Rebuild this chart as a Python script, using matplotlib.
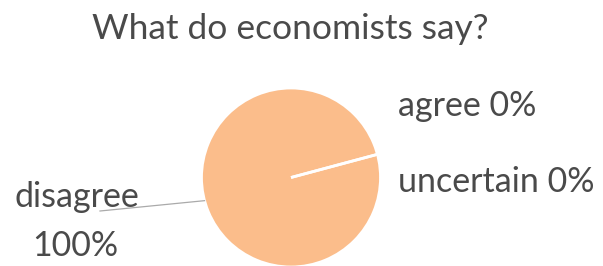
import numpy as np
import matplotlib.pyplot as plt

# economists' answers
labels = ["disagree", "agree", "uncertain"]
shares = [100, 0, 0]

title = "What do economists say?"
pie_color = "#fbbd8b"
text_color = "#4a4a4a"

plt.rcParams['font.family'] = ['Lato', 'DejaVu Sans']

fig = plt.figure(figsize=(6.03, 2.66), dpi=100)
ax = fig.add_axes([0, 0, 1, 1])

cx, cy, r = 291, 266 - 177.5, 89.5
start = 195 - 180  # disagree slice centred at 195 deg
wedges, _ = ax.pie(shares, colors=[pie_color] * 3, startangle=start,
                   center=(cx, cy), radius=r, frame=True,
                   wedgeprops=dict(edgecolor="white", linewidth=2))
# axes in pixel units, y going up
ax.set_xlim(0, 603)
ax.set_ylim(0, 266)
ax.set_aspect('equal')
ax.axis('off')

# leader line for disagree
mid = np.deg2rad(start + shares[0] / sum(shares) * 360 / 2)
ex, ey = cx + r * np.cos(mid), cy + r * np.sin(mid)
ax.plot([ex, 100], [ey, 266 - 211], color="#aaaaaa", lw=0.9)

fs = 24.5
ax.text(290, 266 - 39, title, ha='center', va='baseline', fontsize=25.5, color=text_color)
ax.text(398, 266 - 116, f"{labels[1]} {shares[1]}%", ha='left', va='baseline', fontsize=fs, color=text_color)
ax.text(398, 266 - 192, f"{labels[2]} {shares[2]}%", ha='left', va='baseline', fontsize=fs, color=text_color)
ax.text(77, 266 - 207, labels[0], ha='center', va='baseline', fontsize=fs, color=text_color)
ax.text(75, 266 - 256, f"{shares[0]}%", ha='center', va='baseline', fontsize=fs, color=text_color)

fig.savefig("out.png", dpi=100)
